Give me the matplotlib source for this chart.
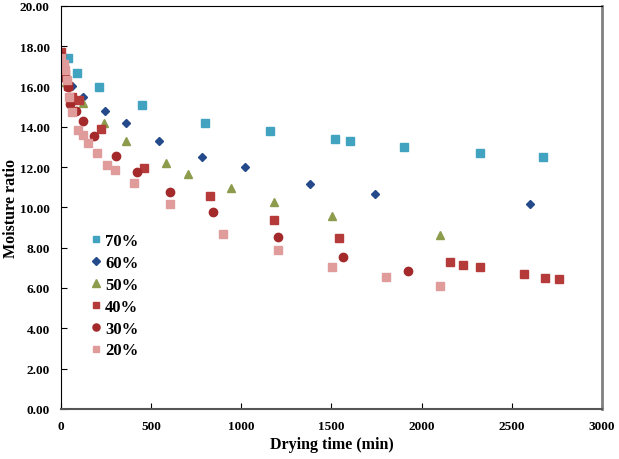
import numpy as np
import matplotlib.pyplot as plt
from matplotlib.ticker import FormatStrFormatter

plt.rcParams['font.family'] = ['Liberation Serif', 'DejaVu Serif']
plt.rcParams['font.weight'] = 'bold'

# drying data (time in min, moisture ratio)
t70 = [37, 90, 212, 451, 797, 1161, 1522, 1603, 1901, 2321, 2674]
m70 = [17.4, 16.67, 15.98, 15.09, 14.18, 13.78, 13.38, 13.28, 12.99, 12.69, 12.52]

t60 = [22, 63, 124, 244, 361, 542, 782, 1021, 1381, 1741, 2602]
m60 = [16.5, 16.0, 15.5, 14.77, 14.18, 13.3, 12.51, 11.98, 11.15, 10.66, 10.16]

t50 = [30, 124, 240, 361, 583, 703, 944, 1182, 1502, 2101]
m50 = [16.2, 15.17, 14.18, 13.27, 12.21, 11.66, 10.97, 10.27, 9.59, 8.65]

t40 = [0, 20, 40, 60, 100, 224, 462, 824, 1182, 1542, 2159, 2232, 2325, 2567, 2685, 2761]
m40 = [17.7, 16.6, 16.0, 15.5, 15.33, 13.88, 11.96, 10.56, 9.36, 8.49, 7.28, 7.16, 7.06, 6.71, 6.49, 6.44]

t30 = [0, 25, 40, 50, 83, 124, 183, 305, 423, 605, 843, 1204, 1565, 1924]
m30 = [17.5, 16.4, 15.97, 15.14, 14.8, 14.27, 13.56, 12.54, 11.75, 10.75, 9.76, 8.55, 7.54, 6.85]

t20 = [0, 15, 25, 35, 42, 59, 96, 120, 151, 201, 253, 301, 403, 603, 900, 1204, 1504, 1803, 2101]
m20 = [17.4, 17.1, 16.8, 16.3, 15.47, 14.72, 13.86, 13.6, 13.19, 12.72, 12.12, 11.84, 11.2, 10.19, 8.69, 7.89, 7.06, 6.53, 6.09]

labels = ['70%', '60%', '50%', '40%', '30%', '20%']

fig = plt.figure(figsize=(6.19, 4.60), dpi=100)
ax = fig.add_axes([0.0985, 0.109, 0.874, 0.876])

ax.plot(t70, m70, ls='none', marker='s', ms=5.5, color='#41a3c0', label=labels[0])
ax.plot(t60, m60, ls='none', marker='D', ms=4.5, color='#254a8c', label=labels[1])
ax.plot(t50, m50, ls='none', marker='^', ms=6, color='#8d9c4c', label=labels[2])
ax.plot(t40, m40, ls='none', marker='s', ms=5.5, color='#b53a3a', label=labels[3])
ax.plot(t30, m30, ls='none', marker='o', ms=6, color='#a3292b', label=labels[4])
ax.plot(t20, m20, ls='none', marker='s', ms=5.5, color='#e09b9b', label=labels[5])

ax.set_xlim(0, 3000)
ax.set_ylim(0, 20)
ax.set_xticks(np.arange(0, 3001, 500))
ax.set_yticks(np.arange(0, 20.1, 2))
ax.yaxis.set_major_formatter(FormatStrFormatter('%.2f'))
ax.tick_params(direction='in', length=4, labelsize=9.5, pad=8)
for lab in ax.get_xticklabels() + ax.get_yticklabels():
    lab.set_fontweight('bold')

ax.spines['left'].set_color('black')
ax.spines['top'].set_color('black')
ax.spines['right'].set_color('#808080')
ax.spines['right'].set_linewidth(2)
ax.spines['bottom'].set_color('#555555')
ax.spines['bottom'].set_linewidth(1.5)

ax.set_xlabel('Drying time (min)', fontsize=11.5, fontweight='bold', labelpad=3)
ax.set_ylabel('Moisture ratio', fontsize=11.5, fontweight='bold')
ax.yaxis.set_label_coords(-0.077, 0.5)

ax.legend(loc='upper left', bbox_to_anchor=(0.026, 0.473), frameon=False,
          prop={'size': 12, 'weight': 'bold'}, handletextpad=0.2,
          handlelength=0.7, labelspacing=0.35, markerscale=0.85)

fig.savefig('out.png', dpi=100)
